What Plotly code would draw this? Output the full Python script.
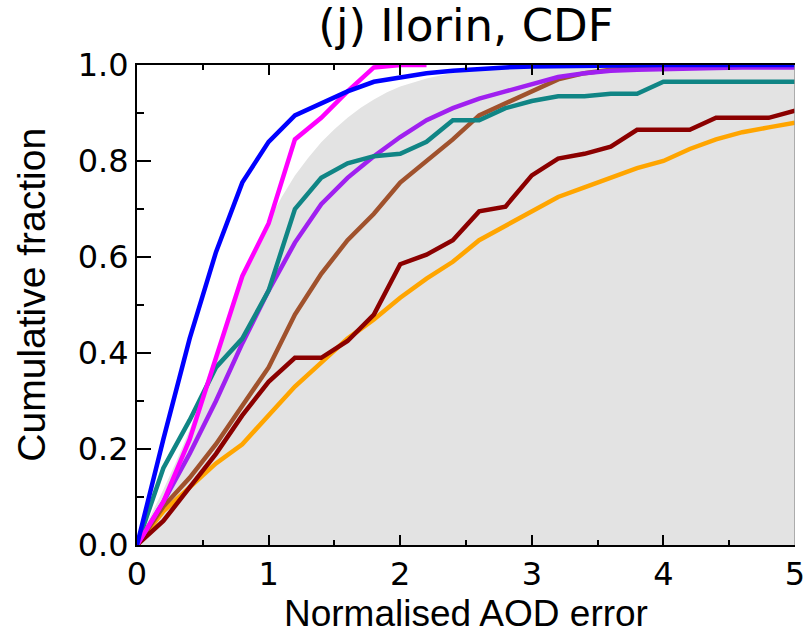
import plotly.graph_objects as go

# x grid for the sampled CDF curves
x_steps = [0.0, 0.2, 0.4, 0.6, 0.8, 1.0, 1.2, 1.4, 1.6, 1.8, 2.0, 2.2, 2.4, 2.6, 2.8,
           3.0, 3.2, 3.4, 3.6, 3.8, 4.0, 4.2, 4.4, 4.6, 4.8, 5.0]

blue = [0.0, 0.22, 0.43, 0.61, 0.755, 0.84, 0.895, 0.92, 0.945, 0.965, 0.975, 0.983, 0.988,
        0.992, 0.995, 0.997, 0.998, 0.999, 1.0, 1.0, 1.0, 1.0, 1.0, 1.0, 1.0, 1.0]
magenta_x = [0.0, 0.2, 0.4, 0.6, 0.8, 1.0, 1.2, 1.4, 1.6, 1.8, 2.0, 2.2]
magenta = [0.0, 0.09, 0.22, 0.39, 0.56, 0.67, 0.845, 0.89, 0.945, 0.995, 1.0, 1.0]
purple = [0.0, 0.09, 0.19, 0.30, 0.42, 0.53, 0.63, 0.71, 0.765, 0.81, 0.85, 0.885, 0.91,
          0.93, 0.945, 0.96, 0.975, 0.983, 0.988, 0.99, 0.992, 0.993, 0.994, 0.995, 0.995, 0.995]
teal = [0.0, 0.16, 0.26, 0.37, 0.43, 0.53, 0.70, 0.765, 0.795, 0.81, 0.815, 0.84, 0.885,
        0.885, 0.91, 0.925, 0.935, 0.935, 0.94, 0.94, 0.965, 0.965, 0.965, 0.965, 0.965, 0.965]
brown = [0.0, 0.08, 0.14, 0.21, 0.29, 0.37, 0.48, 0.565, 0.635, 0.69, 0.755, 0.80, 0.845,
         0.895, 0.92, 0.945, 0.97, 0.983, 0.99, 0.993, 0.995, 0.996, 0.997, 0.997, 0.997, 0.997]
darkred = [0.0, 0.05, 0.12, 0.19, 0.27, 0.34, 0.39, 0.39, 0.425, 0.48, 0.585, 0.605, 0.635,
           0.695, 0.705, 0.77, 0.805, 0.815, 0.83, 0.865, 0.865, 0.865, 0.89, 0.89, 0.89, 0.905]
orange = [0.0, 0.07, 0.12, 0.17, 0.21, 0.27, 0.33, 0.38, 0.43, 0.47, 0.515, 0.555, 0.59,
          0.635, 0.665, 0.695, 0.725, 0.745, 0.765, 0.785, 0.80, 0.825, 0.845, 0.86, 0.87, 0.88]

# reference (shaded) CDF
ref_x = [0.0, 0.1, 0.2, 0.3, 0.4, 0.5, 0.6, 0.7, 0.8, 0.9, 1.0, 1.1, 1.2, 1.3, 1.4, 1.5, 1.6,
         1.7, 1.8, 1.9, 2.0, 2.2, 2.4, 2.6, 2.8, 3.0, 3.5, 4.0, 5.0]
ref_y = [0.0, 0.06, 0.115, 0.175, 0.24, 0.32, 0.40, 0.48, 0.555, 0.62, 0.675, 0.725,
         0.770, 0.806, 0.839, 0.866, 0.890, 0.911, 0.928, 0.943, 0.955, 0.972, 0.984, 0.991,
         0.995, 0.997, 0.9995, 1.0, 1.0]

x_ticks = [0, 1, 2, 3, 4, 5]
y_ticks = [0.0, 0.2, 0.4, 0.6, 0.8, 1.0]
y_tick_labels = ["0.0", "0.2", "0.4", "0.6", "0.8", "1.0"]

TICK_FONT = "DejaVu Sans, sans-serif"
TITLE_FONT = "Liberation Sans, Arial, sans-serif"
LW = 4.5

fig = go.Figure()
fig.add_trace(go.Scatter(x=ref_x, y=ref_y, mode="lines", fill="tozeroy",
                         fillcolor="#e3e3e3", line=dict(width=0, color="#e3e3e3"),
                         hoverinfo="skip", showlegend=False))

series = [
    (x_steps, orange, "#ffa500"),
    (x_steps, brown, "#a0522d"),
    (x_steps, darkred, "#8b0000"),
    (x_steps, purple, "#a020f0"),
    (x_steps, teal, "#108585"),
    (magenta_x, magenta, "#ff00ff"),
    (x_steps, blue, "#0000ff"),
]
for xs, ys, col in series:
    fig.add_trace(go.Scatter(x=xs, y=ys, mode="lines",
                             line=dict(color=col, width=LW), showlegend=False))

fig.add_shape(type="line", xref="x", yref="y", x0=5, x1=5, y0=0, y1=1,
              line=dict(color="#9a9a9a", width=1.5), layer="above")

fig.add_annotation(text="Normalised AOD error", xref="paper", yref="paper",
                   x=0.5, y=-0.142, xanchor="center", yanchor="middle", showarrow=False,
                   font=dict(family=TITLE_FONT, size=37, color="black"))
fig.add_annotation(text="Cumulative fraction", xref="paper", yref="paper",
                   x=-0.16, y=0.521, xanchor="center", yanchor="middle", showarrow=False,
                   textangle=-90, font=dict(family=TITLE_FONT, size=39, color="black"))

fig.update_layout(
    width=808, height=635,
    margin=dict(l=137, r=13, t=65, b=90, autoexpand=False),
    paper_bgcolor="white", plot_bgcolor="white",
    font=dict(family=TICK_FONT, color="black", size=32),
    title=dict(text="(j) Ilorin, CDF", xref="paper", x=0.5, xanchor="center",
               yref="container", y=0.961, yanchor="middle",
               automargin=False, font=dict(size=45, family=TICK_FONT)),
    xaxis=dict(range=[0, 5], tickvals=x_ticks, ticks="inside", ticklen=10, tickwidth=2,
               tickcolor="black", showline=True, linecolor="black", linewidth=2,
               mirror="ticks", showgrid=False, zeroline=False, automargin=False,
               ticklabelstandoff=0,
               minor=dict(dtick=0.5, ticks="inside", ticklen=5, tickwidth=2, tickcolor="black"),
               tickfont=dict(size=32, family=TICK_FONT)),
    yaxis=dict(range=[0, 1], tickvals=y_ticks, ticktext=y_tick_labels, ticks="inside",
               ticklen=14, tickwidth=2, tickcolor="black", showline=True, linecolor="black",
               linewidth=2, mirror=False, showgrid=False, zeroline=False, automargin=False,
               ticklabelstandoff=0,
               minor=dict(dtick=0.1, ticks="inside", ticklen=7, tickwidth=2, tickcolor="black"),
               tickfont=dict(size=32, family=TICK_FONT)),
)

# remove the default page margin so the 808x635 figure fills the window exactly
fig.write_html("out.html", config={"displayModeBar": False},
               post_script="document.body.style.margin='0';document.body.style.overflow='hidden';")
